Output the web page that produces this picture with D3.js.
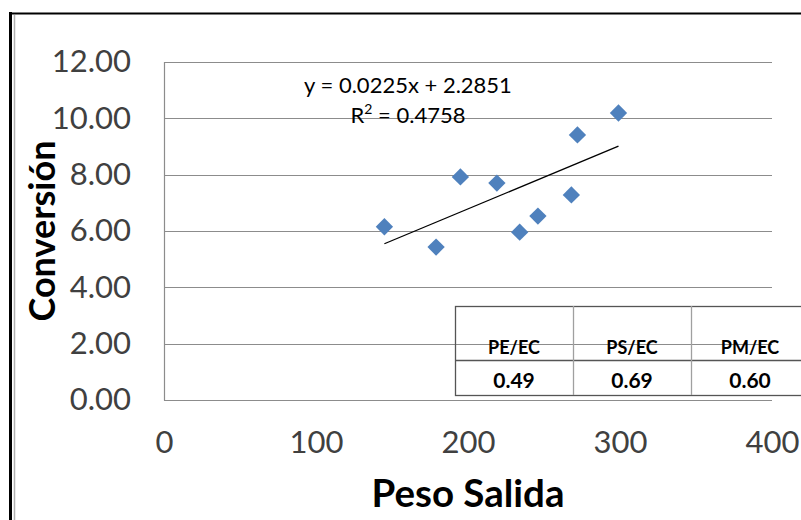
<!DOCTYPE html>
<html>
<head>
<meta charset="utf-8">
<script src="https://cdn.jsdelivr.net/npm/d3@7"></script>
<style>
  body { margin: 0; background: #fff; }
  svg { display: block; font-family: Lato, "Open Sans", sans-serif; }
</style>
</head>
<body>
<svg width="801" height="520"></svg>
<script>
// data
const pesoSalida = [145, 179, 195, 219, 234, 246, 268, 272, 299];
const conversion = [6.15, 5.43, 7.92, 7.70, 5.96, 6.53, 7.28, 9.41, 10.19];
const yTicks = [0, 2, 4, 6, 8, 10, 12];
const xTicks = [0, 100, 200, 300, 400];
const slope = 0.0225;
const intercept = 2.2851;
const eqLabel = "y = 0.0225x + 2.2851";
const r2Label = "0.4758";
const tableHeaders = ["PE/EC", "PS/EC", "PM/EC"];
const tableValues = ["0.49", "0.69", "0.60"];

const width = 801, height = 520;
const plot = { left: 164, right: 772, top: 62, bottom: 400 };

const svg = d3.select("svg");

const x = d3.scaleLinear().domain([0, 400]).range([plot.left, plot.right]);
const y = d3.scaleLinear().domain([0, 12]).range([plot.bottom, plot.top]);

// outer frame
svg.append("line").attr("x1", 10.5).attr("x2", 10.5).attr("y1", 12).attr("y2", height)
    .attr("stroke", "#000").attr("stroke-width", 3);
svg.append("line").attr("x1", 9).attr("x2", width).attr("y1", 13.5).attr("y2", 13.5)
    .attr("stroke", "#000").attr("stroke-width", 2);
svg.append("line").attr("x1", 14.5).attr("x2", 14.5).attr("y1", 15).attr("y2", height)
    .attr("stroke", "#b0b0b0").attr("stroke-width", 1.5);

// gridlines
svg.append("g")
    .selectAll("line")
    .data(yTicks)
    .join("line")
    .attr("x1", plot.left)
    .attr("x2", plot.right)
    .attr("y1", d => Math.round(y(d)) + 0.5)
    .attr("y2", d => Math.round(y(d)) + 0.5)
    .attr("stroke", "#8c8c8c")
    .attr("stroke-width", 1.2);

svg.append("line")
    .attr("x1", plot.left + 0.5).attr("x2", plot.left + 0.5)
    .attr("y1", plot.top).attr("y2", plot.bottom + 0.5)
    .attr("stroke", "#8c8c8c").attr("stroke-width", 1.2);

// left axis labels
const leftAxis = d3.axisLeft(y).tickValues(yTicks).tickFormat(d3.format(".2f")).tickSize(0).tickPadding(33);
svg.append("g")
    .attr("transform", "translate(" + plot.left + ",0)")
    .call(leftAxis)
    .call(g => g.select(".domain").remove())
    .selectAll("text")
    .attr("font-family", "Lato, sans-serif")
    .attr("font-size", 31)
    .attr("fill", "#404040");

// bottom axis labels
const botAxis = d3.axisBottom(x).tickValues(xTicks).tickFormat(d3.format("d")).tickSize(0).tickPadding(31);
svg.append("g")
    .attr("transform", "translate(0," + plot.bottom + ")")
    .call(botAxis)
    .call(g => g.select(".domain").remove())
    .selectAll("text")
    .attr("font-family", "Lato, sans-serif")
    .attr("font-size", 31)
    .attr("fill", "#404040");

// axis titles
svg.append("text")
    .attr("transform", "translate(55," + ((plot.top + plot.bottom) / 2) + ") rotate(-90)")
    .attr("text-anchor", "middle")
    .attr("font-size", 36)
    .attr("font-weight", "bold")
    .attr("fill", "#000")
    .text("Conversión");

svg.append("text")
    .attr("x", (plot.left + plot.right) / 2)
    .attr("y", 507)
    .attr("text-anchor", "middle")
    .attr("font-size", 38.5)
    .attr("font-weight", "bold")
    .attr("fill", "#000")
    .text("Peso Salida");

// table (drawn under the points, gridlines show through)
const colW = 118;
const tbl = { left: 455, top: 306, mid: 360, bottom: 395 };
const tx = d3.scaleBand().domain(tableHeaders).range([tbl.left, tbl.left + colW * tableHeaders.length]);
const tableG = svg.append("g");
tableG.append("rect")
    .attr("x", tbl.left + 0.5).attr("y", tbl.top + 0.5)
    .attr("width", colW * 3).attr("height", tbl.bottom - tbl.top)
    .attr("fill", "none").attr("stroke", "#555").attr("stroke-width", 1.3);
tableG.append("line")
    .attr("x1", tbl.left).attr("x2", tbl.left + colW * 3)
    .attr("y1", tbl.mid + 0.5).attr("y2", tbl.mid + 0.5)
    .attr("stroke", "#555").attr("stroke-width", 1.3);
tableG.selectAll(".sep")
    .data(tableHeaders.slice(1))
    .join("line")
    .attr("class", "sep")
    .attr("x1", d => tx(d) + 0.5).attr("x2", d => tx(d) + 0.5)
    .attr("y1", tbl.top).attr("y2", tbl.bottom)
    .attr("stroke", "#a0a0a0").attr("stroke-width", 1.3);
tableG.selectAll(".hdr")
    .data(tableHeaders)
    .join("text")
    .attr("class", "hdr")
    .attr("x", d => tx(d) + colW / 2)
    .attr("y", 354)
    .attr("text-anchor", "middle")
    .attr("font-size", 18)
    .attr("font-weight", "bold")
    .attr("fill", "#000")
    .text(d => d);
tableG.selectAll(".val")
    .data(tableValues)
    .join("text")
    .attr("class", "val")
    .attr("x", (d, i) => tx(tableHeaders[i]) + colW / 2)
    .attr("y", 388)
    .attr("text-anchor", "middle")
    .attr("font-size", 21)
    .attr("font-weight", "bold")
    .attr("fill", "#000")
    .text(d => d);

// trend line
const xMin = d3.min(pesoSalida), xMax = d3.max(pesoSalida);
svg.append("line")
    .attr("x1", x(xMin)).attr("y1", y(slope * xMin + intercept))
    .attr("x2", x(xMax)).attr("y2", y(slope * xMax + intercept))
    .attr("stroke", "#000").attr("stroke-width", 1.3);

// points
const points = pesoSalida.map((d, i) => ({ x: d, y: conversion[i] }));
svg.append("g")
    .selectAll("path")
    .data(points)
    .join("path")
    .attr("d", d3.symbol(d3.symbolSquare, 150))
    .attr("transform", d => "translate(" + x(d.x) + "," + y(d.y) + ") rotate(45)")
    .attr("fill", "#4f81bd");

// equation label
const eq = svg.append("text")
    .attr("text-anchor", "middle")
    .attr("font-size", 22)
    .attr("fill", "#000");
eq.append("tspan").attr("x", 408).attr("y", 93).text(eqLabel);
const r2 = eq.append("tspan").attr("x", 408).attr("y", 123);
r2.append("tspan").text("R");
r2.append("tspan").attr("font-size", 14).attr("dy", -9).text("2");
r2.append("tspan").attr("dy", 9).text(" = " + r2Label);
</script>
</body>
</html>
